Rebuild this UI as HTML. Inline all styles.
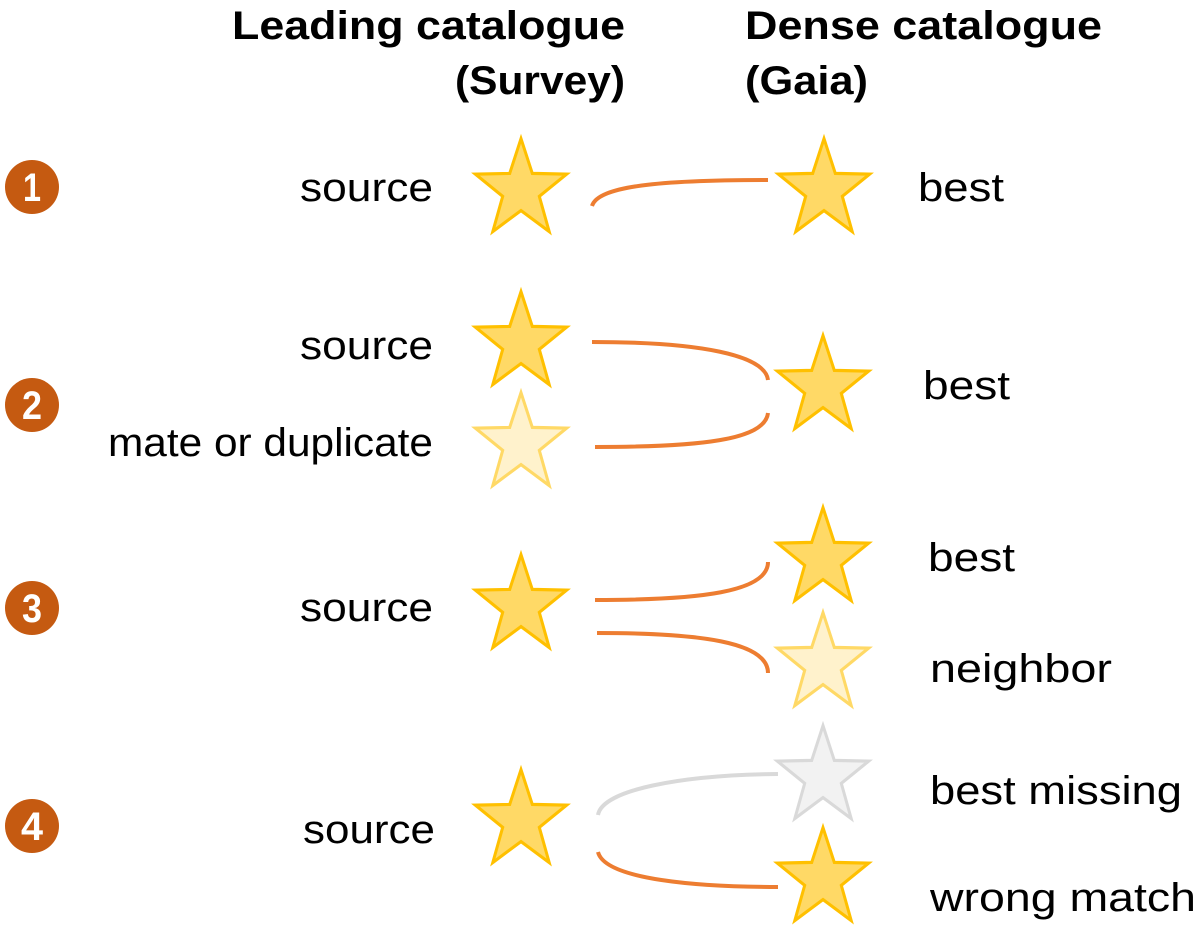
<!DOCTYPE html>
<html><head><meta charset="utf-8"><style>html,body{margin:0;padding:0;background:#fff}svg{display:block}</style></head>
<body>
<svg width="1200" height="939" viewBox="0 0 1200 939" xmlns="http://www.w3.org/2000/svg" font-family="Liberation Sans, sans-serif">
<defs>
<path id="st" transform="scale(1,1.07)" d="M0,-48 L11.3,-15.5 L45.6,-14.8 L18.3,5.9 L28.2,38.8 L0,19.2 L-28.2,38.8 L-18.3,5.9 L-45.6,-14.8 L-11.3,-15.5 Z" stroke-width="3" stroke-linejoin="miter"/>
</defs>
<g font-weight="bold" font-size="40" fill="#000">
<text x="232" y="39" textLength="393" lengthAdjust="spacingAndGlyphs">Leading catalogue</text>
<text x="455" y="94" textLength="170" lengthAdjust="spacingAndGlyphs">(Survey)</text>
<text x="745" y="39" textLength="357" lengthAdjust="spacingAndGlyphs">Dense catalogue</text>
<text x="745" y="94" textLength="123" lengthAdjust="spacingAndGlyphs">(Gaia)</text>
</g>
<g fill="#C55A11">
<circle cx="32" cy="187" r="27"/><circle cx="32" cy="405" r="27"/><circle cx="32" cy="608" r="27"/><circle cx="32" cy="826" r="27"/>
</g>
<g fill="#fff" font-weight="bold" font-size="40" text-anchor="middle">
<text x="32" y="201" textLength="18" lengthAdjust="spacingAndGlyphs">1</text><text x="32" y="419" textLength="20" lengthAdjust="spacingAndGlyphs">2</text><text x="32" y="622" textLength="20" lengthAdjust="spacingAndGlyphs">3</text><text x="32" y="840" textLength="22" lengthAdjust="spacingAndGlyphs">4</text>
</g>
<g fill="none" stroke-width="4" stroke="#ED7D31">
<path d="M592,206 C598,186 660,180 768,180"/>
<path d="M592,342 C700,342 765,355 768,380"/>
<path d="M595,447 C700,447 765,440 768,413"/>
<path d="M595,600 C700,600 768,592 768,562"/>
<path d="M597,633 C700,633 768,642 768,673"/>
<path d="M598,852 C605,880 700,887 778,887"/>
<path d="M598,815 C602,790 680,775 778,774" stroke="#D9D9D9"/>
</g>
<g fill="#FFD966" stroke="#FFC000">
<use href="#st" x="521" y="190"/><use href="#st" x="824" y="190"/>
<use href="#st" x="521" y="343"/><use href="#st" x="823" y="387"/>
<use href="#st" x="521" y="606"/><use href="#st" x="823" y="559"/>
<use href="#st" x="521" y="821"/><use href="#st" x="823" y="879"/>
</g>
<g fill="#FFF2CC" stroke="#FFD966">
<use href="#st" x="521" y="444"/><use href="#st" x="823" y="664"/>
</g>
<g fill="#F2F2F2" stroke="#D9D9D9"><use href="#st" x="823" y="777"/></g>
<g font-size="40" fill="#000">
<text x="300" y="201" textLength="133" lengthAdjust="spacingAndGlyphs">source</text>
<text x="918" y="201" textLength="86" lengthAdjust="spacingAndGlyphs">best</text>
<text x="300" y="359" textLength="133" lengthAdjust="spacingAndGlyphs">source</text>
<text x="108" y="456" textLength="325" lengthAdjust="spacingAndGlyphs">mate or duplicate</text>
<text x="923" y="399" textLength="87" lengthAdjust="spacingAndGlyphs">best</text>
<text x="928" y="571" textLength="87" lengthAdjust="spacingAndGlyphs">best</text>
<text x="300" y="621" textLength="133" lengthAdjust="spacingAndGlyphs">source</text>
<text x="930" y="682" textLength="182" lengthAdjust="spacingAndGlyphs">neighbor</text>
<text x="930" y="804" textLength="252" lengthAdjust="spacingAndGlyphs">best missing</text>
<text x="303" y="843" textLength="132" lengthAdjust="spacingAndGlyphs">source</text>
<text x="930" y="911" textLength="266" lengthAdjust="spacingAndGlyphs">wrong match</text>
</g>
</svg>
</body></html>
